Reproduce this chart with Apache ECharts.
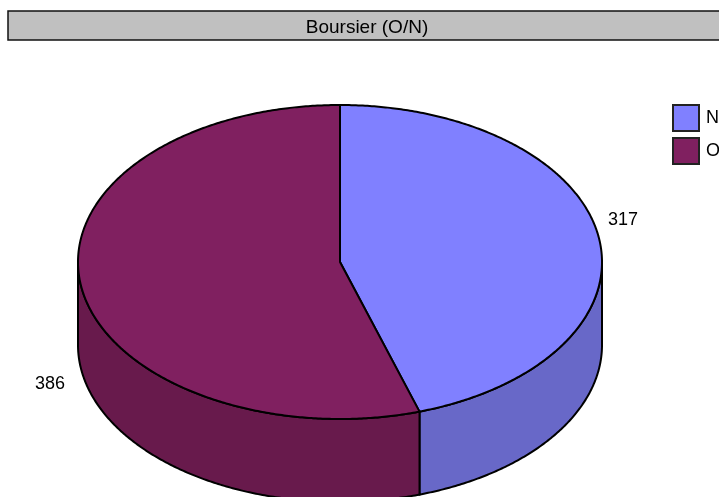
<!DOCTYPE html>
<html>
<head>
<meta charset="utf-8">
<style>html,body{margin:0;padding:0;background:#fff}#c{width:719px;height:497px}</style>
<script src="https://cdn.jsdelivr.net/npm/echarts@6/dist/echarts.min.js"></script>
</head>
<body>
<div id="c"></div>
<script>
const titleText = 'Boursier (O/N)';
const categories = ['N', 'O'];
const values = [317, 386];
const topColors = ['#8080ff', '#802060'];
const wallColors = ['#6868c8', '#681a4c'];
const labelAnchors = [[623, 220], [50, 384]];

const cx = 340, cy = 262, rx = 262, ry = 157, depth = 83;
const total = values.reduce((a, b) => a + b, 0);
const FONT = '"Liberation Sans", Arial, sans-serif';
const LINE = '#000';

function pt(deg, dy) {
  const r = deg * Math.PI / 180;
  return [cx + rx * Math.sin(r), cy - ry * Math.cos(r) + (dy || 0)];
}
function arc(a0, a1, dy) {
  const pts = [];
  const n = Math.max(2, Math.ceil(Math.abs(a1 - a0) * 2));
  for (let i = 0; i <= n; i++) pts.push(pt(a0 + (a1 - a0) * i / n, dy));
  return pts;
}
function renderSlice(idx) {
  return function (params, api) {
    const v = api.value(0);
    const before = values.slice(0, idx).reduce((a, b) => a + b, 0);
    const a0 = before / total * 360;
    const a1 = a0 + v / total * 360;
    const children = [];
    const w0 = Math.max(a0, 90), w1 = Math.min(a1, 270);
    if (w1 > w0) {
      const wall = arc(w0, w1, 0).concat(arc(w1, w0, depth));
      children.push({
        type: 'polygon', shape: { points: wall },
        style: { fill: wallColors[idx], stroke: LINE, lineWidth: 2 }
      });
    }
    const top = [[cx, cy]].concat(arc(a0, a1, 0));
    children.push({
      type: 'polygon', shape: { points: top },
      style: { fill: topColors[idx], stroke: LINE, lineWidth: 2, lineJoin: 'round' }
    });
    children.push({
      type: 'text',
      style: {
        text: String(v), x: labelAnchors[idx][0], y: labelAnchors[idx][1],
        fill: '#000', font: '18px ' + FONT, textAlign: 'center', textVerticalAlign: 'middle'
      }
    });
    return { type: 'group', children };
  };
}

const chart = echarts.init(document.getElementById('c'), null, { renderer: 'canvas' });
chart.setOption({
  animation: false,
  backgroundColor: '#ffffff',
  title: {
    text: titleText, left: 367, top: 17, padding: 0, textAlign: 'center',
    textStyle: { color: '#000', fontFamily: FONT, fontSize: 19, fontWeight: 'normal', lineHeight: 21 }
  },
  legend: {
    orient: 'vertical', left: 672, top: 104, itemWidth: 26, itemHeight: 26, itemGap: 5,
    itemStyle: { borderColor: '#222', borderWidth: 2 },
    textStyle: { color: '#000', fontFamily: FONT, fontSize: 18, padding: [0, 0, 0, 2] },
    padding: 0, selectedMode: false, icon: 'rect',
    data: categories.map((name, i) => ({ name, itemStyle: { color: topColors[i] } }))
  },
  graphic: [{
    type: 'rect', z: -1, silent: true,
    shape: { x: 8, y: 11, width: 740, height: 29 },
    style: { fill: '#c0c0c0', stroke: '#111', lineWidth: 1.5 }
  }],
  series: categories.map((name, i) => ({
    type: 'custom', name, coordinateSystem: 'none', silent: true,
    itemStyle: { color: topColors[i] },
    renderItem: renderSlice(i),
    data: [[values[i]]]
  }))
});
</script>
</body>
</html>
